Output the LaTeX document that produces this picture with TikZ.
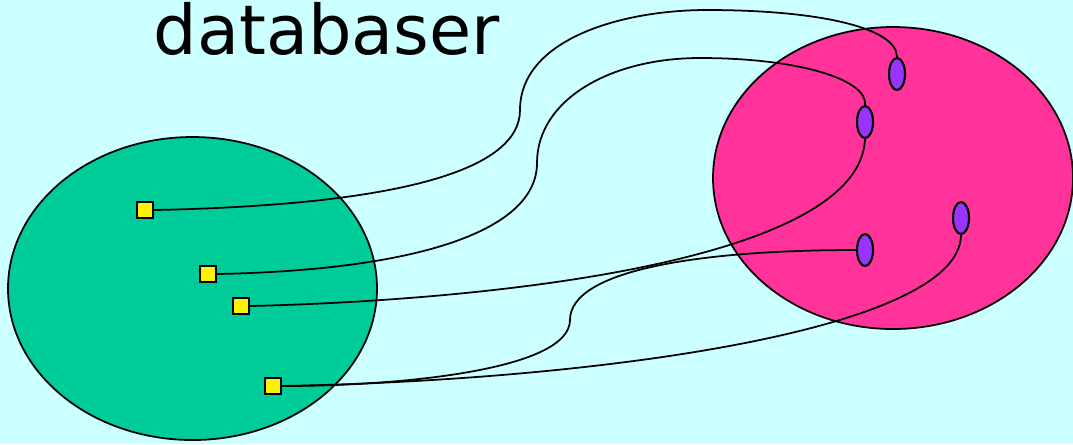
\documentclass[tikz,border=0pt]{standalone}
\usepackage{fontspec}
\setmainfont{DejaVu Sans}
\usetikzlibrary{shapes.geometric}
\definecolor{bgcyan}{HTML}{CCFFFF}
\definecolor{setgreen}{HTML}{00CC99}
\definecolor{setpink}{HTML}{FF3399}
\definecolor{elemviolet}{HTML}{9933FF}
\tikzset{
    rec/.style={draw, line width=0.6pt, fill=yellow, minimum size=0.16cm, inner sep=0pt},
    key/.style={draw, line width=0.6pt, ellipse, fill=elemviolet, minimum width=0.16cm, minimum height=0.32cm, inner sep=0pt},
    link/.style={line width=0.5pt}
}
\begin{document}
\begin{tikzpicture}[x=0.01cm, y=-0.01cm]
    % Bakgrunn
    \fill[bgcyan] (0,0) rectangle (1073,444);
    \useasboundingbox (0,0) rectangle (1073,444);
    \node[anchor=base west, inner sep=0pt, font=\fontsize{19.5pt}{24pt}\selectfont] (title) at (153,54) {databaser};

    % De to databasene
    \draw[line width=0.5pt, fill=setgreen] (192.5,288.5) ellipse [x radius=184.5, y radius=151.5];
    \draw[line width=0.5pt, fill=setpink] (893,178) ellipse [x radius=180, y radius=151];

    % Poster og nøkler
    \node[rec] (r1) at (145,210) {};
    \node[rec] (r2) at (208,274) {};
    \node[rec] (r3) at (241,306) {};
    \node[rec] (r4) at (273,386) {};
    \node[key] (k1) at (897,74) {};
    \node[key] (k2) at (865,122) {};
    \node[key] (k3) at (961,218) {};
    \node[key] (k4) at (865,250) {};

    % Koblinger
    \draw[link] (r1.east) .. controls (400,205) and (520,170) .. (520,110)
        .. controls (520,40) and (620,10) .. (707,10)
        .. controls (820,10) and (897,28) .. (k1.north);
    \draw[link] (r2.east) .. controls (420,270) and (537,230) .. (537,163)
        .. controls (537,100) and (610,58) .. (700,58)
        .. controls (800,58) and (868,80) .. (k2.north);
    \draw[link] (k2.south) .. controls (860,260) and (500,300) .. (r3.east);
    \draw[link] (k4.west) .. controls (700,250) and (570,270) .. (570,320)
        .. controls (570,370) and (400,386) .. (r4.east);
    \draw[link] (k3.south) .. controls (960,330) and (600,380) .. (r4.east);
\end{tikzpicture}
\end{document}
